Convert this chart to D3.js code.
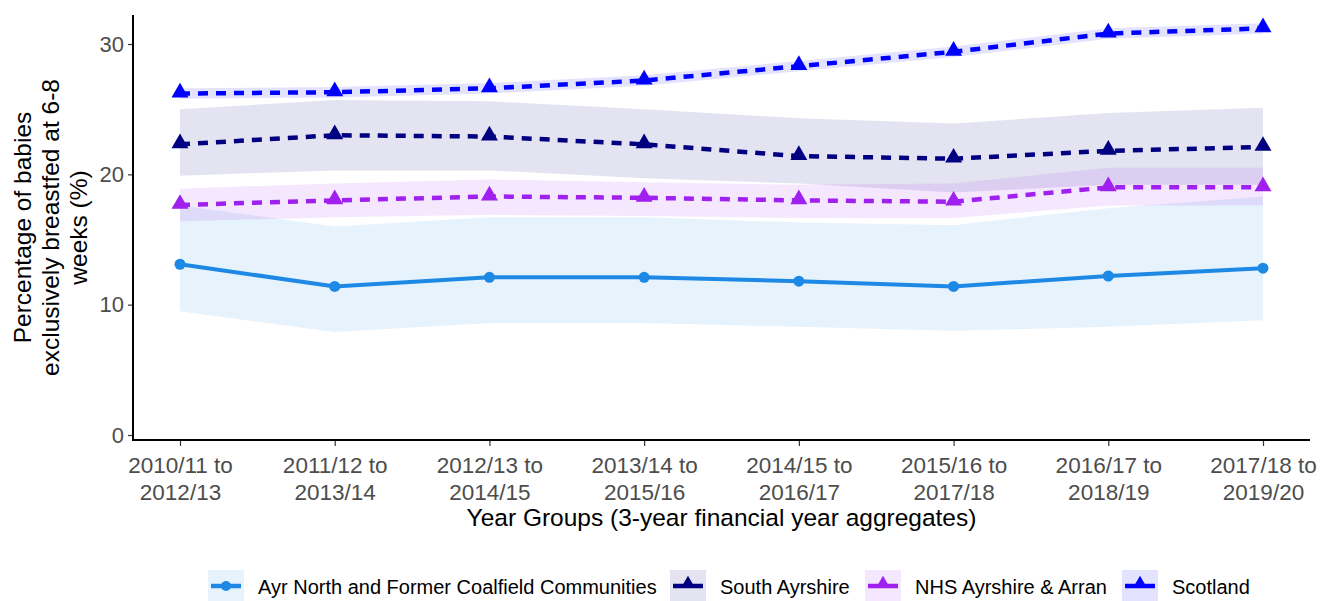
<!DOCTYPE html>
<html>
<head>
<meta charset="utf-8">
<script src="https://cdn.jsdelivr.net/npm/d3@7"></script>
<style>
  html, body { margin: 0; padding: 0; background: #fff; }
  svg { display: block; font-family: "Liberation Sans", Arial, Helvetica, sans-serif; }
</style>
</head>
<body>
<svg id="chart" width="1320" height="601"></svg>
<script>
// Year groups (3-year financial year aggregates)
const categories = [
  ["2010/11 to", "2012/13"],
  ["2011/12 to", "2013/14"],
  ["2012/13 to", "2014/15"],
  ["2013/14 to", "2015/16"],
  ["2014/15 to", "2016/17"],
  ["2015/16 to", "2017/18"],
  ["2016/17 to", "2018/19"],
  ["2017/18 to", "2019/20"]
];

// Percentage of babies exclusively breastfed at 6-8 weeks, with confidence limits
const ayrNorthValues = [13.1, 11.4, 12.1, 12.1, 11.8, 11.4, 12.2, 12.8];
const ayrNorthLower  = [9.5, 7.9, 8.6, 8.6, 8.3, 8.0, 8.3, 8.8];
const ayrNorthUpper  = [17.6, 16.0, 16.7, 16.7, 16.3, 16.1, 17.4, 18.3];

const southAyrValues = [22.3, 23.0, 22.9, 22.3, 21.4, 21.2, 21.8, 22.1];
const southAyrLower  = [19.9, 20.3, 20.3, 19.7, 19.3, 18.6, 19.2, 19.2];
const southAyrUpper  = [25.0, 25.7, 25.6, 25.0, 24.3, 23.9, 24.7, 25.1];

const nhsValues = [17.65, 18.0, 18.3, 18.2, 18.0, 17.9, 19.0, 19.0];
const nhsLower  = [16.4, 16.7, 16.9, 16.8, 16.65, 16.65, 17.6, 17.6];
const nhsUpper  = [18.9, 19.3, 19.6, 19.4, 19.2, 19.3, 20.5, 20.5];

const scotlandValues = [26.2, 26.3, 26.6, 27.2, 28.3, 29.4, 30.8, 31.2];
const scotlandLower  = [25.8, 25.9, 26.2, 26.8, 27.9, 29.0, 30.4, 30.8];
const scotlandUpper  = [26.6, 26.7, 27.0, 27.6, 28.7, 29.8, 31.2, 31.6];

const yTicks = [0, 10, 20, 30];

const seriesNames  = ["Ayr North and Former Coalfield Communities", "South Ayrshire", "NHS Ayrshire & Arran", "Scotland"];
const seriesColors = ["#1E88E5", "#000080", "#A020F0", "#0000FF"];
const seriesShapes = ["circle", "triangle", "triangle", "triangle"];
const seriesDashed = [false, true, true, true];

const series = [
  { values: ayrNorthValues, lower: ayrNorthLower, upper: ayrNorthUpper },
  { values: southAyrValues, lower: southAyrLower, upper: southAyrUpper },
  { values: nhsValues, lower: nhsLower, upper: nhsUpper },
  { values: scotlandValues, lower: scotlandLower, upper: scotlandUpper }
].map((s, i) => ({
  ...s,
  name: seriesNames[i],
  color: seriesColors[i],
  shape: seriesShapes[i],
  dashed: seriesDashed[i]
}));

const svg = d3.select("#chart");
const W = 1320;
const plotTop = 15, plotBottom = 440, plotLeft = 133, plotRight = W - 10;

const x = d3.scalePoint()
  .domain(d3.range(categories.length))
  .range([180, 1263]);

const y = d3.scaleLinear()
  .domain([0, 30])
  .range([435, 44]);

// confidence ribbons
const area = d3.area()
  .x((d, i) => x(i))
  .y0(d => y(d[0]))
  .y1(d => y(d[1]));

const ribbons = svg.append("g");
series.forEach(s => {
  ribbons.append("path")
    .datum(s.lower.map((l, i) => [l, s.upper[i]]))
    .attr("d", area)
    .attr("fill", s.color)
    .attr("fill-opacity", 0.11);
});

// lines
const line = d3.line().x((d, i) => x(i)).y(d => y(d));
const lines = svg.append("g");
series.forEach(s => {
  lines.append("path")
    .datum(s.values)
    .attr("d", line)
    .attr("fill", "none")
    .attr("stroke", s.color)
    .attr("stroke-width", s.dashed ? 4.5 : 4)
    .attr("stroke-dasharray", s.dashed ? "10,8" : null);
});

// point markers
const triangle = d3.symbol().type(d3.symbolTriangle).size(125);
const legendTriangle = d3.symbol().type(d3.symbolTriangle).size(70);
const pts = svg.append("g");
series.forEach(s => {
  s.values.forEach((v, i) => {
    if (s.shape === "circle") {
      pts.append("circle")
        .attr("cx", x(i)).attr("cy", y(v)).attr("r", 5.5)
        .attr("fill", s.color);
    } else {
      pts.append("path")
        .attr("d", triangle)
        .attr("transform", `translate(${x(i)},${y(v) - 1})`)
        .attr("fill", s.color);
    }
  });
});

// y axis
const yAxis = svg.append("g")
  .attr("transform", `translate(${plotLeft},0)`)
  .call(d3.axisLeft(y).tickValues(yTicks).tickSize(5).tickPadding(4));
yAxis.select(".domain").remove();
yAxis.selectAll(".tick line").attr("stroke", "#333").attr("stroke-width", 1.2);
yAxis.selectAll(".tick text")
  .attr("fill", "#4D4D4D")
  .style("font-size", "22px")
  .style("font-family", "Liberation Sans, Arial, sans-serif");

svg.append("line")
  .attr("x1", plotLeft).attr("x2", plotLeft)
  .attr("y1", plotTop).attr("y2", plotBottom + 1)
  .attr("stroke", "#000").attr("stroke-width", 2);

// x axis
const xAxis = svg.append("g")
  .attr("transform", `translate(0,${plotBottom})`)
  .call(d3.axisBottom(x).tickSize(6).tickFormat(() => ""));
xAxis.select(".domain").remove();
xAxis.selectAll(".tick line").attr("stroke", "#333").attr("stroke-width", 1.2);
xAxis.selectAll(".tick").each(function(d) {
  const t = d3.select(this).append("text")
    .attr("fill", "#4D4D4D")
    .attr("text-anchor", "middle")
    .style("font-size", "22.5px");
  t.append("tspan").attr("x", 0).attr("y", 33).text(categories[d][0]);
  t.append("tspan").attr("x", 0).attr("y", 60).text(categories[d][1]);
});

svg.append("line")
  .attr("x1", plotLeft).attr("x2", plotRight)
  .attr("y1", plotBottom).attr("y2", plotBottom)
  .attr("stroke", "#000").attr("stroke-width", 2);

// axis titles
svg.append("text")
  .attr("x", (plotLeft + plotRight) / 2)
  .attr("y", 526)
  .attr("text-anchor", "middle")
  .attr("fill", "#000")
  .style("font-size", "24.5px")
  .text("Year Groups (3-year financial year aggregates)");

const yTitle = svg.append("text")
  .attr("transform", `translate(0,${(plotTop + plotBottom) / 2}) rotate(-90)`)
  .attr("text-anchor", "middle")
  .attr("fill", "#000")
  .style("font-size", "24.5px");
["Percentage of babies", "exclusively breastfed at 6-8", "weeks (%)"].forEach((txt, i) => {
  yTitle.append("tspan").attr("x", 0).attr("y", 30.5 + i * 28).text(txt);
});

// legend
const legendX = [208, 670, 865, 1122];
const legend = svg.append("g").attr("transform", "translate(0,570)");
series.forEach((s, i) => {
  const g = legend.append("g").attr("transform", `translate(${legendX[i]},0)`);
  g.append("rect")
    .attr("x", 0).attr("y", 0).attr("width", 36).attr("height", 31)
    .attr("fill", s.color).attr("fill-opacity", 0.11);
  g.append("line")
    .attr("x1", 3).attr("x2", 33).attr("y1", 16).attr("y2", 16)
    .attr("stroke", s.color).attr("stroke-width", 4.5);
  if (s.shape === "circle") {
    g.append("circle").attr("cx", 18).attr("cy", 16).attr("r", 5).attr("fill", s.color);
  } else {
    g.append("path").attr("d", legendTriangle).attr("transform", "translate(18,13)").attr("fill", s.color);
  }
  g.append("text")
    .attr("x", 50).attr("y", 23.5)
    .attr("fill", "#000")
    .style("font-size", "20px")
    .text(s.name);
});
</script>
</body>
</html>
